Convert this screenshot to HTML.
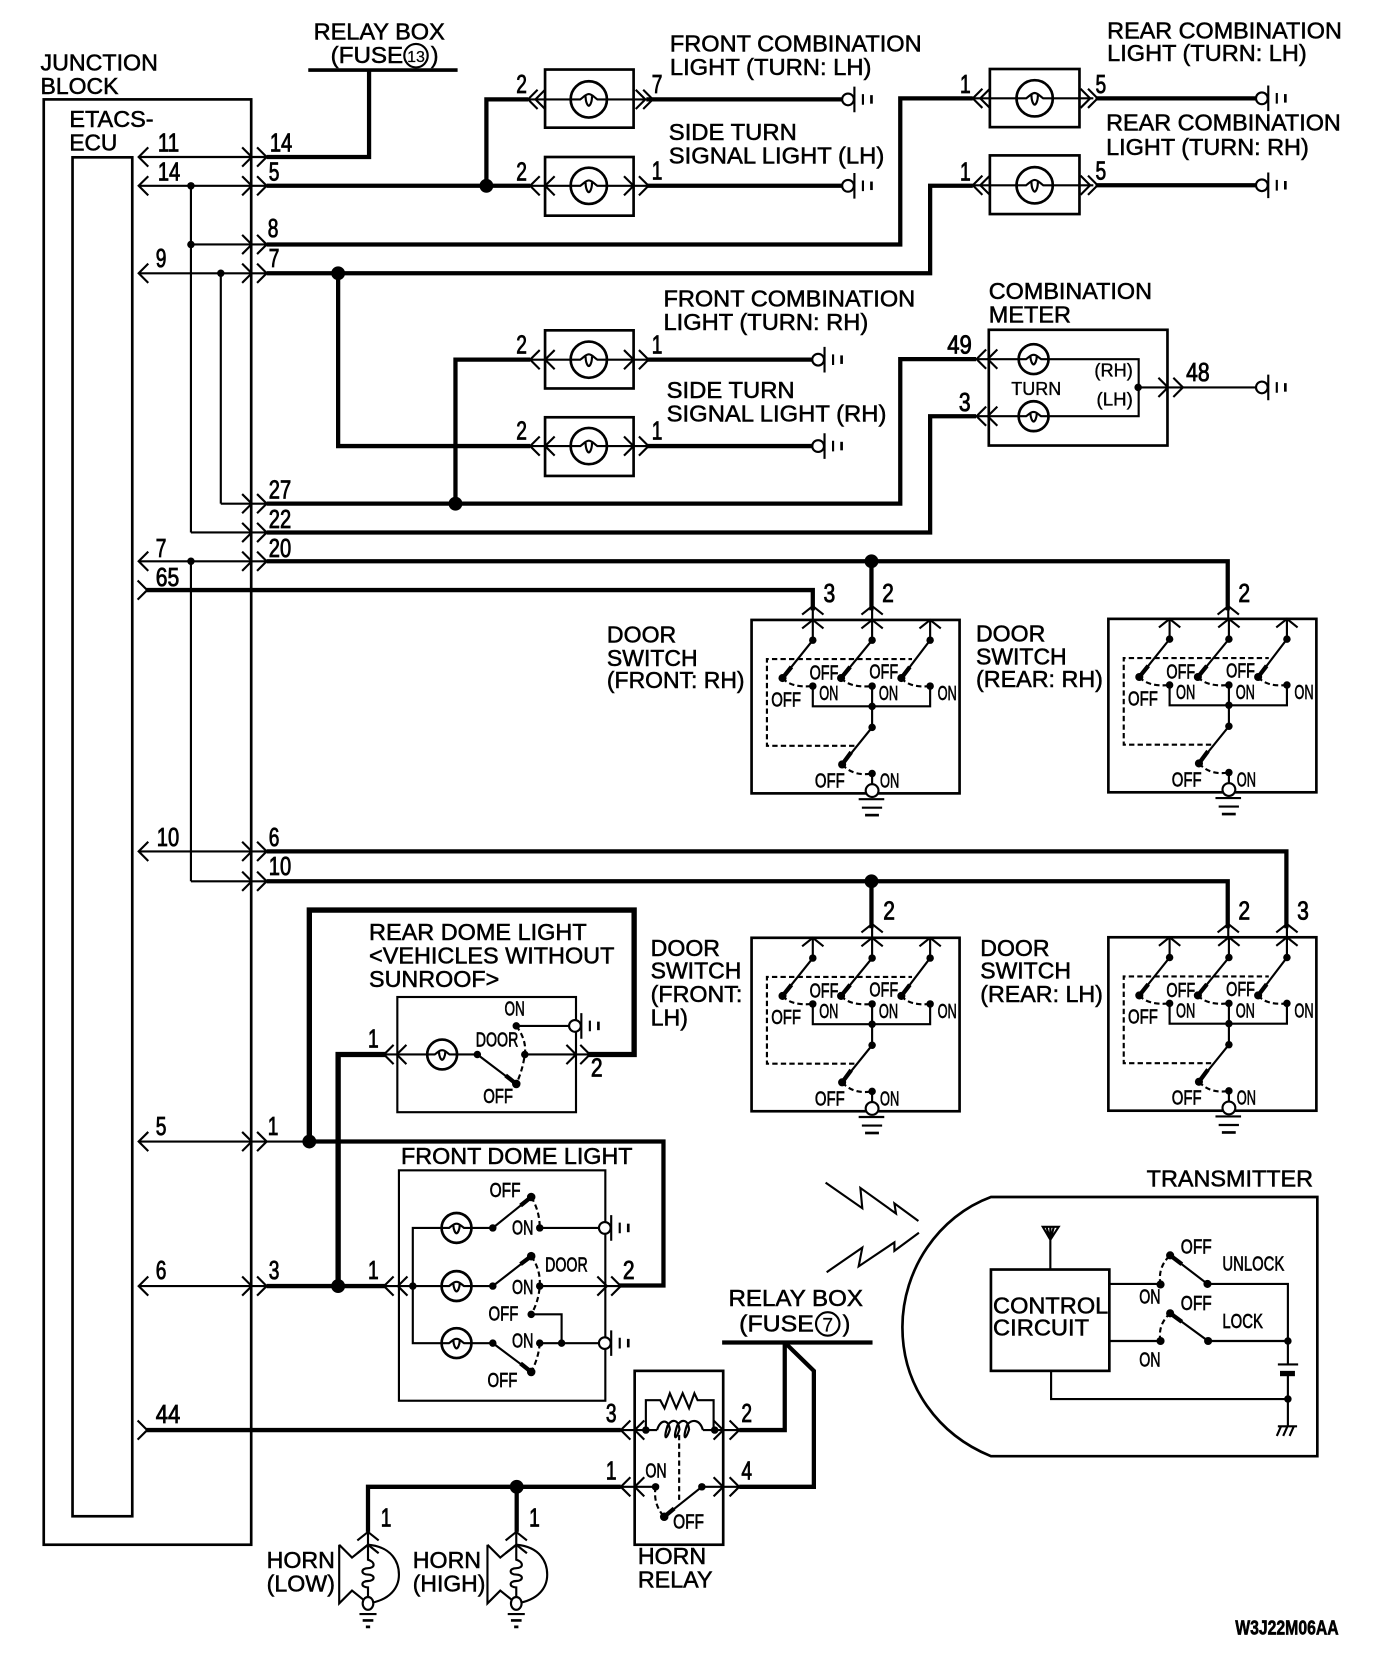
<!DOCTYPE html>
<html><head><meta charset="utf-8"><title>Wiring diagram</title>
<style>
html,body{margin:0;padding:0;background:#fff}
svg{display:block}
text{font-family:"Liberation Sans",sans-serif;fill:#000;stroke:#000}
.l{font-size:21.5px;stroke-width:.5}
.n{font-size:24px;stroke-width:.8}
.s{font-size:19px;stroke-width:.6}
.m{font-size:17px;stroke-width:.35}
.w{fill:none;stroke:#000;stroke-width:2}
.k{fill:none;stroke:#000;stroke-width:4;stroke-linejoin:miter}
.d{fill:none;stroke:#000;stroke-width:2;stroke-dasharray:5 3}
.c{fill:none;stroke:#000;stroke-width:2}
</style></head><body>
<svg xmlns="http://www.w3.org/2000/svg" width="1392" height="1674" viewBox="0 0 1305 1569">
<rect width="1305" height="1569" fill="#fff"/>
<defs>
<path id="r" class="c" d="M-9,-9 L0,0 L-9,9"/>
<path id="f" class="c" d="M9,-9 L0,0 L9,9"/>
<path id="u" class="c" d="M-10,8 L0,0 L10,8"/>
<g id="lamp"><circle r="17" fill="#fff" stroke="#000" stroke-width="2.5"/><path class="w" d="M-18,0 H-8 C-5,-2 -3,-5 0,-5 C3,-5 5,-2 8,0 H18 M-3,-3 C-3,3 -1,6 0,6 C1,6 3,3 3,-3"/></g>
<g id="lamps"><circle r="14" fill="#fff" stroke="#000" stroke-width="2.5"/><path class="w" d="M-15,0 H-7 C-4,-2 -3,-4 0,-4 C3,-4 4,-2 7,0 H15 M-3,-3 C-3,2 -1,5 0,5 C1,5 3,2 3,-3"/></g>
<g id="gnd"><circle r="5.5" fill="#fff" stroke="#000" stroke-width="2"/><path class="w" d="M6,-12 V12 M14,-5 V5"/><path stroke="#000" stroke-width="2.5" d="M22,-4 V4"/></g>
<g id="ds">
<rect x="704.6" y="581" width="195" height="162.6" class="c" stroke-width="2.5" style="stroke-width:2.5"/>
<use href="#u" x="762" y="581"/><use href="#u" x="817.6" y="581"/><use href="#u" x="872" y="581"/>
<path class="w" d="M762,581 V600 L733.6,635.5 M817.6,581 V600 L788.5,635.5 M872,581 V600 L845,635.5"/>
<path class="k" d="M742,625 L733.6,635.5 M797,625 L788.5,635.5 M853,625 L845,635.5"/>
<circle cx="762" cy="600" r="3.5"/><circle cx="817.6" cy="600" r="3.5"/><circle cx="872" cy="600" r="3.5"/>
<circle cx="733.6" cy="635.5" r="3.8"/><circle cx="788.5" cy="635.5" r="3.8"/><circle cx="845" cy="635.5" r="3.8"/>
<path class="d" d="M733.6,635.5 Q742,645 762,643 M788.5,635.5 Q797,645 817.6,643 M845,635.5 Q853,645 872,643"/>
<circle cx="762" cy="643" r="3.5"/><circle cx="817.6" cy="643" r="3.5"/><circle cx="872" cy="643" r="3.5"/>
<path class="w" d="M762,643 V662 H872 V643 M817.6,643 V681.7 L789.5,716.5"/>
<circle cx="817.6" cy="662" r="3.5"/><circle cx="817.6" cy="681.7" r="3.5"/><circle cx="789.5" cy="716.5" r="3.8"/>
<path class="k" d="M798,705 L789.5,716.5"/>
<path class="d" d="M789.5,716.5 Q800,728 817.6,725"/><circle cx="817.6" cy="725" r="3.5"/>
<path class="w" d="M817.6,725 V738"/>
<circle cx="817.6" cy="741" r="6" fill="#fff" stroke="#000" stroke-width="2"/>
<path class="w" d="M805,749 H829 M808,757 H827"/><path stroke="#000" stroke-width="2.5" d="M811,764 H824"/>
<path class="d" d="M801,699 H719 V617.7 H855"/>
<text class="s" x="759" y="637" textLength="27" lengthAdjust="spacingAndGlyphs">OFF</text>
<text class="s" x="815" y="636" textLength="27" lengthAdjust="spacingAndGlyphs">OFF</text>
<text class="s" x="768" y="656" textLength="18" lengthAdjust="spacingAndGlyphs">ON</text>
<text class="s" x="824" y="656" textLength="18" lengthAdjust="spacingAndGlyphs">ON</text>
<text class="s" x="879" y="656" textLength="18" lengthAdjust="spacingAndGlyphs">ON</text>
<text class="s" x="723" y="662" textLength="28" lengthAdjust="spacingAndGlyphs">OFF</text>
<text class="s" x="764" y="738" textLength="28" lengthAdjust="spacingAndGlyphs">OFF</text>
<text class="s" x="825" y="738" textLength="18" lengthAdjust="spacingAndGlyphs">ON</text>
</g>
<g id="horn">
<path class="w" d="M318,1448 V1503 L330,1491 L345,1503 M318,1448 L330,1460 L345,1448 C368,1450 374,1465 374,1476 C374,1488 366,1500 345,1503"/>
<path class="w" d="M345,1448 V1462 C352,1464 352,1470 345,1470 C338,1470 338,1476 345,1476 C352,1476 352,1482 345,1482 C338,1482 338,1488 345,1488 V1498"/>
<ellipse cx="345" cy="1503" rx="5" ry="6" fill="#fff" stroke="#000" stroke-width="2"/>
<path class="w" d="M337,1513 H353"/><path stroke="#000" stroke-width="2.5" d="M340,1519 H350 M343,1525 H347"/>
<use href="#u" x="345" y="1436"/><use href="#u" x="345" y="1448"/>
<path class="w" d="M345,1436 V1448"/>
</g>
</defs>

<!-- junction block -->
<rect x="41" y="93" width="194.5" height="1355" class="c" style="stroke-width:2.5"/>
<rect x="68" y="147.3" width="56" height="1274" class="c" style="stroke-width:2.5"/>
<text class="l" x="38" y="66" textLength="110" lengthAdjust="spacingAndGlyphs">JUNCTION</text>
<text class="l" x="38" y="88" textLength="73" lengthAdjust="spacingAndGlyphs">BLOCK</text>
<text class="l" x="65" y="119" textLength="79" lengthAdjust="spacingAndGlyphs">ETACS-</text>
<text class="l" x="65" y="141" textLength="45" lengthAdjust="spacingAndGlyphs">ECU</text>

<!-- rows thin -->
<path class="w" d="M130,147 H250 M130,174 H250 M179,229 H250 M130,256 H250 M207,472 H250 M179,499 H250 M130,526 H250 M130,798 H250 M179,826 H250 M130,1070 H290 M130,1205.5 H250 M179,174 V499 M207,256 V472 M179,526 V826"/>
<circle cx="179" cy="174" r="3.5"/><circle cx="179" cy="229" r="3.5"/><circle cx="207" cy="256" r="3.5"/><circle cx="179" cy="526" r="3.5"/>
<!-- left arrows -->
<use href="#f" x="130" y="147"/><use href="#f" x="130" y="174"/><use href="#f" x="130" y="256"/><use href="#f" x="130" y="526"/><use href="#f" x="130" y="798"/><use href="#f" x="130" y="1070"/><use href="#f" x="130" y="1205.5"/>
<use href="#r" x="138" y="553"/><use href="#r" x="138" y="1340.5"/>
<!-- chevron pairs at block edge -->
<g>
<use href="#r" x="236" y="147"/><use href="#r" x="250" y="147"/>
<use href="#r" x="236" y="174"/><use href="#r" x="250" y="174"/>
<use href="#r" x="236" y="229"/><use href="#r" x="250" y="229"/>
<use href="#r" x="236" y="256"/><use href="#r" x="250" y="256"/>
<use href="#r" x="236" y="472"/><use href="#r" x="250" y="472"/>
<use href="#r" x="236" y="499"/><use href="#r" x="250" y="499"/>
<use href="#r" x="236" y="526"/><use href="#r" x="250" y="526"/>
<use href="#r" x="236" y="798"/><use href="#r" x="250" y="798"/>
<use href="#r" x="236" y="826"/><use href="#r" x="250" y="826"/>
<use href="#r" x="236" y="1070"/><use href="#r" x="250" y="1070"/>
<use href="#r" x="236" y="1205.5"/><use href="#r" x="250" y="1205.5"/>
</g>
<!-- numbers at block -->
<g>
<text class="n" x="148" y="142" textLength="20" lengthAdjust="spacingAndGlyphs">11</text>
<text class="n" x="148" y="169" textLength="21" lengthAdjust="spacingAndGlyphs">14</text>
<text class="n" x="253" y="142" textLength="21" lengthAdjust="spacingAndGlyphs">14</text>
<text class="n" x="252" y="169" textLength="10" lengthAdjust="spacingAndGlyphs">5</text>
<text class="n" x="251" y="222" textLength="10" lengthAdjust="spacingAndGlyphs">8</text>
<text class="n" x="252" y="250" textLength="10" lengthAdjust="spacingAndGlyphs">7</text>
<text class="n" x="146" y="250" textLength="10" lengthAdjust="spacingAndGlyphs">9</text>
<text class="n" x="252" y="467" textLength="21" lengthAdjust="spacingAndGlyphs">27</text>
<text class="n" x="252" y="495" textLength="21" lengthAdjust="spacingAndGlyphs">22</text>
<text class="n" x="252" y="522" textLength="21" lengthAdjust="spacingAndGlyphs">20</text>
<text class="n" x="146" y="522" textLength="10" lengthAdjust="spacingAndGlyphs">7</text>
<text class="n" x="146" y="549" textLength="22" lengthAdjust="spacingAndGlyphs">65</text>
<text class="n" x="147" y="793" textLength="21" lengthAdjust="spacingAndGlyphs">10</text>
<text class="n" x="252" y="793" textLength="10" lengthAdjust="spacingAndGlyphs">6</text>
<text class="n" x="252" y="820" textLength="21" lengthAdjust="spacingAndGlyphs">10</text>
<text class="n" x="146" y="1064" textLength="10" lengthAdjust="spacingAndGlyphs">5</text>
<text class="n" x="251" y="1064" textLength="10" lengthAdjust="spacingAndGlyphs">1</text>
<text class="n" x="146" y="1199" textLength="10" lengthAdjust="spacingAndGlyphs">6</text>
<text class="n" x="252" y="1199" textLength="10" lengthAdjust="spacingAndGlyphs">3</text>
<text class="n" x="146" y="1334" textLength="23" lengthAdjust="spacingAndGlyphs">44</text>
</g>

<!-- relay box 13 -->
<text class="l" x="294" y="37" textLength="123" lengthAdjust="spacingAndGlyphs">RELAY BOX</text>
<text class="l" x="310" y="59" textLength="68" lengthAdjust="spacingAndGlyphs">(FUSE</text>
<circle cx="390" cy="52" r="11" fill="#fff" stroke="#000" stroke-width="2"/>
<text x="390" y="58" text-anchor="middle" style="font-size:15px;stroke-width:.2">13</text>
<text class="l" x="404" y="59">)</text>
<path d="M289,65.5 H429" stroke="#000" stroke-width="3.5"/>
<path class="k" d="M346,65 V147 H250"/>

<!-- thick wires -->
<g>
<path class="k" d="M250,174 H497 M456,174 V93 H495"/>
<circle cx="456" cy="174" r="6.5"/>
<path class="k" d="M250,229 H844 V92 H912"/>
<path class="k" d="M250,256 H872 V174 H912"/>
<path class="k" d="M250,472 H844 V336.5 H915"/>
<path class="k" d="M250,499 H872 V390 H915"/>
<path class="k" d="M317,256 V418 H497"/><circle cx="317" cy="256" r="6.5"/>
<path class="k" d="M427,472 V337 H497"/><circle cx="427" cy="472" r="6.5"/>
<path class="k" d="M250,526 H1151 V572"/>
<path class="k" d="M817,526 V572"/><circle cx="817" cy="526" r="6.5"/>
<path class="k" d="M137,553 H762 V572"/>
<path class="k" d="M250,798 H1206 V870"/>
<path class="k" d="M250,826 H1151 V870"/>
<path class="k" d="M817,826 V870"/><circle cx="817" cy="826" r="6.5"/>
<path class="w" d="M762,568 V581 M817.6,568 V581 M1151.5,568 V581 M817.6,866 V879 M1151.5,866 V879 M1206.5,866 V879"/>
</g>

<!-- lamp boxes -->
<g>
<rect x="511" y="65" width="83" height="54.5" class="c" style="stroke-width:2.5"/>
<rect x="511" y="147" width="83" height="55" class="c" style="stroke-width:2.5"/>
<rect x="511" y="309.5" width="83" height="54.5" class="c" style="stroke-width:2.5"/>
<rect x="511" y="391" width="83" height="55" class="c" style="stroke-width:2.5"/>
<rect x="928" y="64.5" width="84" height="54.5" class="c" style="stroke-width:2.5"/>
<rect x="928" y="145.5" width="84" height="55" class="c" style="stroke-width:2.5"/>
<path class="w" d="M495,93 H608 M497,174 H608 M497,337 H608 M497,418 H608 M905,92 H1025 M905,173.5 H1025"/>
<use href="#lamp" x="552" y="93"/><use href="#lamp" x="552" y="174"/><use href="#lamp" x="552" y="337"/><use href="#lamp" x="552" y="418"/><use href="#lamp" x="970" y="92"/><use href="#lamp" x="970" y="173.5"/>
<use href="#f" x="495" y="93"/><use href="#f" x="502" y="93"/><use href="#r" x="605" y="93"/><use href="#r" x="612" y="93"/>
<use href="#f" x="497" y="174"/><use href="#f" x="511" y="174"/><use href="#r" x="594" y="174"/><use href="#r" x="608" y="174"/>
<use href="#f" x="497" y="337"/><use href="#f" x="511" y="337"/><use href="#r" x="594" y="337"/><use href="#r" x="608" y="337"/>
<use href="#f" x="497" y="418"/><use href="#f" x="511" y="418"/><use href="#r" x="594" y="418"/><use href="#r" x="608" y="418"/>
<use href="#f" x="912" y="92"/><use href="#f" x="919" y="92"/><use href="#r" x="1022" y="92"/><use href="#r" x="1029" y="92"/>
<use href="#f" x="912" y="173.5"/><use href="#f" x="919" y="173.5"/><use href="#r" x="1022" y="173.5"/><use href="#r" x="1029" y="173.5"/>
<path class="k" d="M606,93 H790 M606,174 H790 M606,337 H762 M606,418 H762 M1027,92 H1178 M1027,173.5 H1178"/>
<use href="#gnd" x="795" y="93"/><use href="#gnd" x="795" y="174"/><use href="#gnd" x="767" y="337"/><use href="#gnd" x="767" y="418"/><use href="#gnd" x="1183" y="92"/><use href="#gnd" x="1183" y="173.5"/>
</g>
<g>
<text class="n" x="484" y="87" textLength="10" lengthAdjust="spacingAndGlyphs">2</text>
<text class="n" x="611" y="87" textLength="10" lengthAdjust="spacingAndGlyphs">7</text>
<text class="n" x="484" y="169" textLength="10" lengthAdjust="spacingAndGlyphs">2</text>
<text class="n" x="611" y="168" textLength="10" lengthAdjust="spacingAndGlyphs">1</text>
<text class="n" x="900" y="87" textLength="10" lengthAdjust="spacingAndGlyphs">1</text>
<text class="n" x="1027" y="87" textLength="10" lengthAdjust="spacingAndGlyphs">5</text>
<text class="n" x="900" y="169" textLength="10" lengthAdjust="spacingAndGlyphs">1</text>
<text class="n" x="1027" y="168" textLength="10" lengthAdjust="spacingAndGlyphs">5</text>
<text class="n" x="484" y="331" textLength="10" lengthAdjust="spacingAndGlyphs">2</text>
<text class="n" x="611" y="331" textLength="10" lengthAdjust="spacingAndGlyphs">1</text>
<text class="n" x="484" y="412" textLength="10" lengthAdjust="spacingAndGlyphs">2</text>
<text class="n" x="611" y="412" textLength="10" lengthAdjust="spacingAndGlyphs">1</text>
<text class="n" x="888" y="331" textLength="23" lengthAdjust="spacingAndGlyphs">49</text>
<text class="n" x="899" y="385" textLength="11" lengthAdjust="spacingAndGlyphs">3</text>
<text class="n" x="1112" y="357" textLength="22" lengthAdjust="spacingAndGlyphs">48</text>
<text class="l" x="628" y="48" textLength="236" lengthAdjust="spacingAndGlyphs">FRONT COMBINATION</text>
<text class="l" x="628" y="70" textLength="189" lengthAdjust="spacingAndGlyphs">LIGHT (TURN: LH)</text>
<text class="l" x="627" y="131" textLength="120" lengthAdjust="spacingAndGlyphs">SIDE TURN</text>
<text class="l" x="627" y="153" textLength="202" lengthAdjust="spacingAndGlyphs">SIGNAL LIGHT (LH)</text>
<text class="l" x="1038" y="36" textLength="220" lengthAdjust="spacingAndGlyphs">REAR COMBINATION</text>
<text class="l" x="1038" y="57" textLength="187" lengthAdjust="spacingAndGlyphs">LIGHT (TURN: LH)</text>
<text class="l" x="1037" y="122" textLength="220" lengthAdjust="spacingAndGlyphs">REAR COMBINATION</text>
<text class="l" x="1037" y="145" textLength="190" lengthAdjust="spacingAndGlyphs">LIGHT (TURN: RH)</text>
<text class="l" x="622" y="287" textLength="236" lengthAdjust="spacingAndGlyphs">FRONT COMBINATION</text>
<text class="l" x="622" y="309" textLength="192" lengthAdjust="spacingAndGlyphs">LIGHT (TURN: RH)</text>
<text class="l" x="625" y="373" textLength="120" lengthAdjust="spacingAndGlyphs">SIDE TURN</text>
<text class="l" x="625" y="395" textLength="206" lengthAdjust="spacingAndGlyphs">SIGNAL LIGHT (RH)</text>
<text class="l" x="927" y="280" textLength="153" lengthAdjust="spacingAndGlyphs">COMBINATION</text>
<text class="l" x="927" y="302" textLength="77" lengthAdjust="spacingAndGlyphs">METER</text>
</g>

<!-- combination meter -->
<rect x="927" y="309" width="167.5" height="108.5" class="c" style="stroke-width:2.5"/>
<path class="w" d="M915,336.5 H1067.5 V390 H915 M1067.5,363 H1183"/>
<circle cx="1067" cy="363" r="3.5"/>
<use href="#lamps" x="969" y="336.5"/><use href="#lamps" x="969" y="390"/>
<use href="#f" x="915.5" y="336.5"/><use href="#f" x="926" y="336.5"/><use href="#f" x="915.5" y="390"/><use href="#f" x="926" y="390"/>
<use href="#r" x="1095" y="363"/><use href="#r" x="1109" y="363"/>
<use href="#gnd" x="1183" y="363"/>
<text class="m" x="948" y="370" textLength="47" lengthAdjust="spacingAndGlyphs">TURN</text>
<text class="m" x="1026" y="353" textLength="36" lengthAdjust="spacingAndGlyphs">(RH)</text>
<text class="m" x="1028" y="380" textLength="34" lengthAdjust="spacingAndGlyphs">(LH)</text>

<!-- door switches -->
<use href="#ds"/>
<use href="#ds" transform="translate(334.5,-1)"/>
<use href="#ds" transform="translate(0,298)"/>
<use href="#ds" transform="translate(334.5,297.5)"/>
<use href="#u" x="762" y="568"/><use href="#u" x="817.6" y="568"/><use href="#u" x="1151.5" y="568"/>
<use href="#u" x="817.6" y="866"/><use href="#u" x="1151.5" y="866"/><use href="#u" x="1206.5" y="866"/>
<text class="n" x="772" y="564" textLength="11" lengthAdjust="spacingAndGlyphs">3</text>
<text class="n" x="827" y="564" textLength="11" lengthAdjust="spacingAndGlyphs">2</text>
<text class="n" x="1161" y="564" textLength="11" lengthAdjust="spacingAndGlyphs">2</text>
<text class="n" x="828" y="862" textLength="11" lengthAdjust="spacingAndGlyphs">2</text>
<text class="n" x="1161" y="862" textLength="11" lengthAdjust="spacingAndGlyphs">2</text>
<text class="n" x="1216" y="862" textLength="11" lengthAdjust="spacingAndGlyphs">3</text>
<text class="l" x="569" y="602" textLength="65" lengthAdjust="spacingAndGlyphs">DOOR</text>
<text class="l" x="569" y="624" textLength="85" lengthAdjust="spacingAndGlyphs">SWITCH</text>
<text class="l" x="569" y="645" textLength="129" lengthAdjust="spacingAndGlyphs">(FRONT: RH)</text>
<text class="l" x="915" y="601" textLength="65" lengthAdjust="spacingAndGlyphs">DOOR</text>
<text class="l" x="915" y="623" textLength="85" lengthAdjust="spacingAndGlyphs">SWITCH</text>
<text class="l" x="915" y="644" textLength="119" lengthAdjust="spacingAndGlyphs">(REAR: RH)</text>
<text class="l" x="610" y="896" textLength="65" lengthAdjust="spacingAndGlyphs">DOOR</text>
<text class="l" x="610" y="917" textLength="85" lengthAdjust="spacingAndGlyphs">SWITCH</text>
<text class="l" x="610" y="939" textLength="86" lengthAdjust="spacingAndGlyphs">(FRONT:</text>
<text class="l" x="610" y="961" textLength="35" lengthAdjust="spacingAndGlyphs">LH)</text>
<text class="l" x="919" y="896" textLength="65" lengthAdjust="spacingAndGlyphs">DOOR</text>
<text class="l" x="919" y="917" textLength="85" lengthAdjust="spacingAndGlyphs">SWITCH</text>
<text class="l" x="919" y="939" textLength="115" lengthAdjust="spacingAndGlyphs">(REAR: LH)</text>

<!-- rear dome -->
<path class="k" d="M290,1070 H622 V1205 H580"/>
<path class="k" style="stroke-width:5" d="M290,1070 V853 H594.5 V988.4 H552"/>
<circle cx="290" cy="1070" r="6.5"/>
<path class="k" style="stroke-width:5" d="M317,1205.5 V988.4 H362"/>
<path class="k" d="M250,1205.5 H362"/><circle cx="317" cy="1205.5" r="6.5"/>
<rect x="372.5" y="934.5" width="167.5" height="108" class="c" style="stroke-width:2"/>
<path class="w" d="M360,988.4 H447.5 L484,1016 M492,988.4 H552 M484,961.6 H534"/>
<use href="#lamps" x="414.5" y="988.4"/>
<use href="#f" x="360" y="988.4"/><use href="#f" x="372" y="988.4"/><use href="#r" x="540" y="988.4"/><use href="#r" x="553" y="988.4"/>
<circle cx="447.5" cy="988.4" r="3.5"/><circle cx="484" cy="961.6" r="3.5"/><circle cx="492" cy="988.4" r="3.5"/><circle cx="484" cy="1016" r="4"/>
<path class="k" d="M474,1008 L484,1016"/>
<path class="d" d="M484,961.6 Q494,975 492,988.4 Q490,1003 484,1016"/>
<use href="#gnd" x="539" y="961.6"/>
<text class="n" x="345" y="982" textLength="10" lengthAdjust="spacingAndGlyphs">1</text>
<text class="n" x="554" y="1009" textLength="11" lengthAdjust="spacingAndGlyphs">2</text>
<text class="s" x="473" y="952" textLength="19" lengthAdjust="spacingAndGlyphs">ON</text>
<text class="s" x="446" y="981" textLength="40" lengthAdjust="spacingAndGlyphs">DOOR</text>
<text class="s" x="453" y="1034" textLength="28" lengthAdjust="spacingAndGlyphs">OFF</text>
<text class="l" x="346" y="881" textLength="204" lengthAdjust="spacingAndGlyphs">REAR DOME LIGHT</text>
<text class="l" x="346" y="903" textLength="230" lengthAdjust="spacingAndGlyphs">&lt;VEHICLES WITHOUT</text>
<text class="l" x="346" y="925" textLength="122" lengthAdjust="spacingAndGlyphs">SUNROOF&gt;</text>

<!-- front dome -->
<text class="l" x="376" y="1091" textLength="217" lengthAdjust="spacingAndGlyphs">FRONT DOME LIGHT</text>
<rect x="374" y="1097" width="193.5" height="216" class="c" style="stroke-width:2"/>
<path class="w" d="M462,1151 H387 V1259 H462 M360,1205.5 H462 L498,1177.5 M462,1151 L498,1122 M506,1151 H562 M506,1205.5 H582 M462,1259 L498,1286 M506,1259 H562 M498,1232 H526.5 V1259"/>
<use href="#lamps" x="428" y="1151"/><use href="#lamps" x="428" y="1205.5"/><use href="#lamps" x="428" y="1259"/>
<circle cx="387" cy="1205.5" r="3.5"/><circle cx="462" cy="1151" r="3.5"/><circle cx="462" cy="1205.5" r="3.5"/><circle cx="462" cy="1259" r="3.5"/>
<circle cx="498" cy="1122" r="4"/><circle cx="498" cy="1177.5" r="4"/><circle cx="498" cy="1286" r="4"/>
<circle cx="506" cy="1151" r="3.5"/><circle cx="506" cy="1205.5" r="3.5"/><circle cx="506" cy="1259" r="3.5"/><circle cx="498" cy="1232" r="3.5"/><circle cx="526.5" cy="1259" r="3.5"/>
<path class="k" d="M488,1130 L498,1122 M488,1185 L498,1177.5 M488,1278 L498,1286"/>
<path class="d" d="M498,1122 Q506,1135 506,1151 M498,1177.5 Q507,1190 506,1205.5 Q505,1220 498,1232 M506,1259 Q505,1273 498,1286"/>
<use href="#gnd" x="567" y="1151"/><use href="#gnd" x="567" y="1259"/>
<use href="#f" x="360" y="1205.5"/><use href="#f" x="373" y="1205.5"/><use href="#r" x="569" y="1205.5"/><use href="#r" x="582" y="1205.5"/>
<text class="n" x="345" y="1199" textLength="10" lengthAdjust="spacingAndGlyphs">1</text>
<text class="n" x="584" y="1199" textLength="11" lengthAdjust="spacingAndGlyphs">2</text>
<text class="s" x="459" y="1122" textLength="29" lengthAdjust="spacingAndGlyphs">OFF</text>
<text class="s" x="480" y="1157" textLength="20" lengthAdjust="spacingAndGlyphs">ON</text>
<text class="s" x="511" y="1192" textLength="40" lengthAdjust="spacingAndGlyphs">DOOR</text>
<text class="s" x="480" y="1213" textLength="20" lengthAdjust="spacingAndGlyphs">ON</text>
<text class="s" x="458" y="1238" textLength="28" lengthAdjust="spacingAndGlyphs">OFF</text>
<text class="s" x="480" y="1263" textLength="20" lengthAdjust="spacingAndGlyphs">ON</text>
<text class="s" x="457" y="1300" textLength="28" lengthAdjust="spacingAndGlyphs">OFF</text>

<!-- horn relay -->
<rect x="595" y="1285" width="83" height="163" class="c" style="stroke-width:2.5"/>
<path class="k" d="M137,1340.5 H582 M693,1340.5 H735.7 V1258.4 M735.7,1258.4 L763,1285 V1393.7 H693 M345,1436 V1393.7 H582 M484.4,1393.7 V1436"/>
<path d="M677,1258.4 H818" stroke="#000" stroke-width="4"/>
<circle cx="484.4" cy="1393.7" r="6.5"/>
<path class="w" d="M582,1340.5 H616 M659,1340.5 H693 M582,1393.7 H614.6 M658,1393.7 H693 M605.5,1340.5 V1312.5 H619 L623,1320 L628,1306 L634,1320 L640,1306 L646,1320 L651,1306 L654,1312.5 H669 V1340.5"/>
<path class="w" d="M616,1340.5 C619,1330 627,1330 628,1340 C624,1352 622,1348 626,1336 C630,1330 636,1330 637,1340 C633,1352 631,1348 635,1336 C639,1330 645,1330 646,1340 C642,1352 640,1348 644,1336 C648,1330 656,1330 659,1340.5"/>
<path class="d" d="M636.7,1345 V1406 M614.6,1393.7 Q612,1410 622.7,1421.8"/>
<path class="w" d="M658,1393.7 L622.7,1421.8"/>
<path class="k" d="M632,1414 L622.7,1421.8"/>
<circle cx="605.5" cy="1340.5" r="3.5"/><circle cx="670" cy="1340.5" r="3.5"/><circle cx="614.6" cy="1393.7" r="3.5"/><circle cx="658" cy="1393.7" r="3.5"/><circle cx="622.7" cy="1421.8" r="4"/>
<use href="#f" x="582" y="1340.5"/><use href="#f" x="595" y="1340.5"/><use href="#r" x="678" y="1340.5"/><use href="#r" x="693" y="1340.5"/>
<use href="#f" x="582" y="1393.7"/><use href="#f" x="595" y="1393.7"/><use href="#r" x="678" y="1393.7"/><use href="#r" x="693" y="1393.7"/>
<text class="n" x="568" y="1333" textLength="10" lengthAdjust="spacingAndGlyphs">3</text>
<text class="n" x="695" y="1333" textLength="10" lengthAdjust="spacingAndGlyphs">2</text>
<text class="n" x="568" y="1387" textLength="10" lengthAdjust="spacingAndGlyphs">1</text>
<text class="n" x="695" y="1387" textLength="10" lengthAdjust="spacingAndGlyphs">4</text>
<text class="s" x="605" y="1385" textLength="20" lengthAdjust="spacingAndGlyphs">ON</text>
<text class="s" x="631" y="1433" textLength="29" lengthAdjust="spacingAndGlyphs">OFF</text>
<text class="l" x="598" y="1466" textLength="64" lengthAdjust="spacingAndGlyphs">HORN</text>
<text class="l" x="598" y="1488" textLength="70" lengthAdjust="spacingAndGlyphs">RELAY</text>
<text class="l" x="683" y="1224" textLength="126" lengthAdjust="spacingAndGlyphs">RELAY BOX</text>
<text class="l" x="693" y="1248" textLength="70" lengthAdjust="spacingAndGlyphs">(FUSE</text>
<circle cx="776" cy="1241" r="11" fill="#fff" stroke="#000" stroke-width="2"/>
<text x="776" y="1248" text-anchor="middle" style="font-size:18px;stroke-width:.2">7</text>
<text class="l" x="790" y="1248">)</text>

<!-- horns -->
<use href="#horn"/>
<use href="#horn" transform="translate(139,0)"/>
<text class="n" x="357" y="1431" textLength="10" lengthAdjust="spacingAndGlyphs">1</text>
<text class="n" x="496" y="1431" textLength="10" lengthAdjust="spacingAndGlyphs">1</text>
<text class="l" x="250" y="1470" textLength="64" lengthAdjust="spacingAndGlyphs">HORN</text>
<text class="l" x="250" y="1492" textLength="64" lengthAdjust="spacingAndGlyphs">(LOW)</text>
<text class="l" x="387" y="1470" textLength="64" lengthAdjust="spacingAndGlyphs">HORN</text>
<text class="l" x="387" y="1492" textLength="68" lengthAdjust="spacingAndGlyphs">(HIGH)</text>

<!-- lightning -->
<polyline class="w" points="774,1108.5 808.4,1132.5 806.6,1113.5 840,1137.5 838.5,1128 861,1144.5"/>
<polyline class="w" points="775,1192.5 808.4,1169.5 805,1187 838.5,1164.5 838.5,1172.5 861.5,1155.5"/>

<!-- transmitter -->
<text class="l" x="1075" y="1112" textLength="156" lengthAdjust="spacingAndGlyphs">TRANSMITTER</text>
<path d="M929,1122 H1235 V1365 H929 C880,1345 846,1300 846,1244 C846,1190 880,1140 929,1122 Z" fill="none" stroke="#000" stroke-width="2.5"/>
<rect x="929" y="1190" width="111" height="95" class="c" style="stroke-width:2.5"/>
<text class="l" x="931" y="1231" textLength="108" lengthAdjust="spacingAndGlyphs">CONTROL</text>
<text class="l" x="931" y="1252" textLength="90" lengthAdjust="spacingAndGlyphs">CIRCUIT</text>
<path class="w" d="M984.7,1190 V1150 M977.6,1150 H992.5 L984.7,1162 Z M981,1150 L984.7,1162 L988,1150"/>
<path class="w" d="M1040,1203.5 H1088 M1097,1176.7 L1132,1203.5 H1207.4 V1278.8 M1040,1257 H1088 M1097,1231 L1132.6,1257 H1207 M1207.4,1288 V1337 M985.4,1285 V1311.4 H1207"/>
<path class="k" d="M1097,1176.7 L1108,1185 M1097,1231 L1108,1239"/>
<circle cx="1088" cy="1204" r="3.8"/><circle cx="1097" cy="1176.7" r="3.8"/><circle cx="1132" cy="1203.5" r="3.8"/>
<circle cx="1088" cy="1257" r="3.8"/><circle cx="1097" cy="1231" r="3.8"/><circle cx="1132.6" cy="1257" r="3.8"/>
<circle cx="1207.4" cy="1257" r="3.5"/><circle cx="1207.4" cy="1311.4" r="3.5"/>
<path class="d" d="M1088,1204 Q1085,1188 1097,1176.7 M1088,1257 Q1085,1242 1097,1231"/>
<path class="w" d="M1198,1279 H1217"/><path stroke="#000" stroke-width="5" d="M1200,1287.5 H1214"/>
<path class="w" d="M1198,1337 H1216 M1201,1337 L1197,1346 M1207,1337 L1203,1346 M1213,1337 L1209,1346"/>
<text class="s" x="1107" y="1175" textLength="29" lengthAdjust="spacingAndGlyphs">OFF</text>
<text class="s" x="1146" y="1191" textLength="58" lengthAdjust="spacingAndGlyphs">UNLOCK</text>
<text class="s" x="1068" y="1222" textLength="20" lengthAdjust="spacingAndGlyphs">ON</text>
<text class="s" x="1107" y="1228" textLength="29" lengthAdjust="spacingAndGlyphs">OFF</text>
<text class="s" x="1146" y="1245" textLength="38" lengthAdjust="spacingAndGlyphs">LOCK</text>
<text class="s" x="1068" y="1281" textLength="20" lengthAdjust="spacingAndGlyphs">ON</text>
<text class="s" x="1158" y="1532" textLength="97" lengthAdjust="spacingAndGlyphs" style="font-weight:bold">W3J22M06AA</text>
</svg>
</body></html>
